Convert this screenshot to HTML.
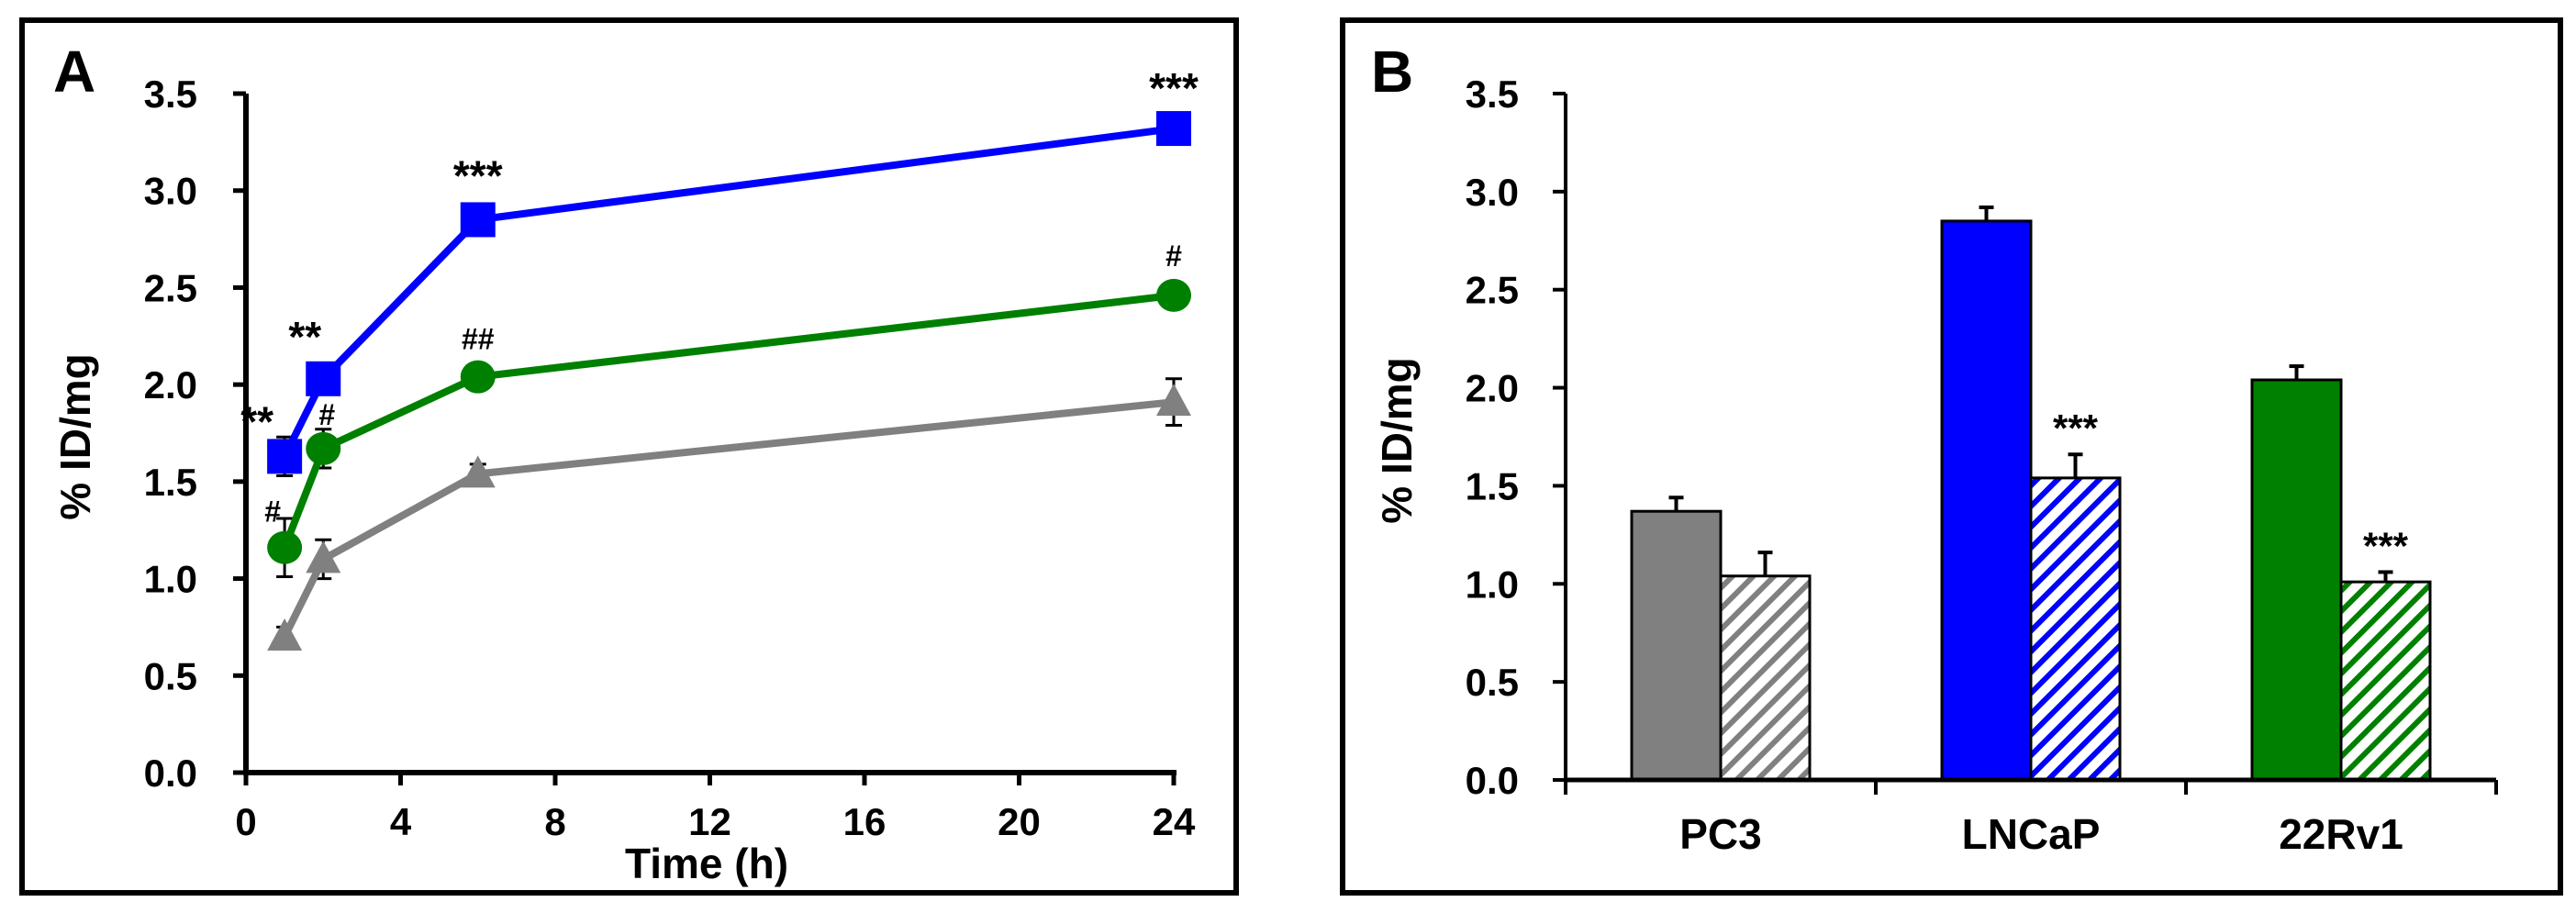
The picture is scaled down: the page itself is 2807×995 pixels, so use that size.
<!DOCTYPE html>
<html><head><meta charset="utf-8"><style>
html,body{margin:0;padding:0;background:#fff}
svg{display:block}
text{font-family:"Liberation Sans",Arial,sans-serif;font-weight:bold;fill:#000}
.n{font-family:"Liberation Sans Narrow","Liberation Sans",sans-serif}
</style></head><body>
<svg id="fig" width="2807" height="995" viewBox="0 0 2807 995" xmlns="http://www.w3.org/2000/svg">
<defs>
<pattern id="hg" patternUnits="userSpaceOnUse" width="16" height="16" patternTransform="rotate(45)"><rect width="16" height="16" fill="#fff"/><rect width="6" height="16" fill="#808080"/></pattern>
<pattern id="hb" patternUnits="userSpaceOnUse" width="16" height="16" patternTransform="rotate(45)"><rect width="16" height="16" fill="#fff"/><rect width="6" height="16" fill="#0000ff"/></pattern>
<pattern id="hgr" patternUnits="userSpaceOnUse" width="16" height="16" patternTransform="rotate(45)"><rect width="16" height="16" fill="#fff"/><rect width="6" height="16" fill="#008000"/></pattern>
</defs>
<rect x="24" y="22" width="1323" height="951" fill="none" stroke="#000" stroke-width="6"/>
<rect x="1463" y="22" width="1327" height="951" fill="none" stroke="#000" stroke-width="6"/>
<text x="58" y="100" font-size="64">A</text>
<text x="1494" y="100" font-size="64">B</text>
<g id="A"></g>
<g id="B"></g>
</svg>
<script>
// Panel A data
const times = [1, 2, 6, 24];
const xTicksA = [0, 4, 8, 12, 16, 20, 24];
const yTicks = [0, 0.5, 1, 1.5, 2, 2.5, 3, 3.5];
const yTickLabels = ["0.0","0.5","1.0","1.5","2.0","2.5","3.0","3.5"];
const blueVals = [1.63, 2.03, 2.85, 3.32];
const blueErr = [0.1, 0.05, 0.04, 0.04];
const greenVals = [1.16, 1.67, 2.04, 2.46];
const greenErr = [0.15, 0.1, 0.04, 0.04];
const grayVals = [0.70, 1.10, 1.54, 1.91];
const grayErr = [0.05, 0.1, 0.05, 0.12];
const blueMarks = ["**", "**", "***", "***"];
const greenMarks = ["#", "#", "##", "#"];
// Panel B data
const categories = ["PC3", "LNCaP", "22Rv1"];
const solidVals = [1.37, 2.85, 2.04];
const solidErr = [0.07, 0.07, 0.07];
const hatchVals = [1.04, 1.54, 1.01];
const hatchErr = [0.12, 0.12, 0.05];
const hatchMarks = ["", "***", "***"];

const NS = "http://www.w3.org/2000/svg";
function mk(parent, tag, attrs, txt) {
  const e = document.createElementNS(NS, tag);
  for (const k in attrs) e.setAttribute(k, attrs[k]);
  if (txt !== undefined) e.textContent = txt;
  parent.appendChild(e);
  return e;
}
// ---------- Panel A ----------
const A = document.getElementById("A");
const ax0 = 268, ax1 = 1279, ay0 = 842, ay1 = 102;
const xA = t => ax0 + (t / 24) * (ax1 - ax0);
const yA = v => ay0 - (v / 3.5) * (ay0 - ay1);
let e;
e = mk(A, "line", {x1: ax0, y1: ay1, x2: ax0, y2: ay0 + 2, stroke: "#000", "stroke-width": 6});
 
e = mk(A, "line", {x1: ax0 - 3, y1: ay0, x2: ax1 + 3, y2: ay0, stroke: "#000", "stroke-width": 6});
 
yTicks.forEach((v, i) => {
  mk(A, "line", {x1: ax0 - 14, y1: yA(v), x2: ax0, y2: yA(v), stroke: "#000", "stroke-width": 5});
  const t = mk(A, "text", {x: 215, y: yA(v) + 15, "font-size": 42, "text-anchor": "end"}, yTickLabels[i]);
   
});
xTicksA.forEach(v => {
  mk(A, "line", {x1: xA(v), y1: ay0, x2: xA(v), y2: ay0 + 14, stroke: "#000", "stroke-width": 5});
  const t = mk(A, "text", {x: xA(v), y: 910, "font-size": 42, "text-anchor": "middle"}, String(v));
   
});
e = mk(A, "text", {x: 770, y: 957, "font-size": 46, "text-anchor": "middle"}, "Time (h)");
 
e = mk(A, "text", {x: 0, y: 0, "font-size": 46, "text-anchor": "middle", transform: "translate(98,476) rotate(-90)"}, "% ID/mg");
 

function series(vals, errs, color, name, marker) {
  const g = mk(A, "g", {});
   
  vals.forEach((v, i) => {
    const x = xA(times[i]);
    mk(g, "line", {x1: x, y1: yA(v + errs[i]), x2: x, y2: yA(v - errs[i]), stroke: "#000", "stroke-width": 3});
    mk(g, "line", {x1: x - 9, y1: yA(v + errs[i]), x2: x + 9, y2: yA(v + errs[i]), stroke: "#000", "stroke-width": 3});
    mk(g, "line", {x1: x - 9, y1: yA(v - errs[i]), x2: x + 9, y2: yA(v - errs[i]), stroke: "#000", "stroke-width": 3});
  });
  const pts = vals.map((v, i) => xA(times[i]) + "," + yA(v)).join(" ");
  mk(g, "polyline", {points: pts, fill: "none", stroke: color, "stroke-width": 8, "stroke-linejoin": "round"});
  vals.forEach((v, i) => {
    const x = xA(times[i]), y = yA(v);
    let m;
    if (marker === "sq") m = mk(g, "rect", {x: x - 19, y: y - 19, width: 38, height: 38, fill: color});
    else if (marker === "ci") m = mk(g, "ellipse", {cx: x, cy: y, rx: 19, ry: 18, fill: color});
    else m = mk(g, "polygon", {points: `${x},${y - 20} ${x + 19},${y + 15} ${x - 19},${y + 15}`, fill: color});
     
  });
}
series(grayVals, grayErr, "#808080", "pc3", "tri");
series(greenVals, greenErr, "#008000", "22rv1", "ci");
series(blueVals, blueErr, "#0000ff", "lncap", "sq");
// annotations
const bOff = [[-30, -42], [-20, -50], [0, -52], [0, -48]];
blueMarks.forEach((s, i) => {
  const t = mk(A, "text", {x: xA(times[i]) + bOff[i][0], y: yA(blueVals[i]) + bOff[i][1] + 20, "font-size": 46, "text-anchor": "middle"}, s);
   
});
const gOff = [[-13, -42], [4, -40], [0, -44], [0, -46]];
greenMarks.forEach((s, i) => {
  const t = mk(A, "text", {x: xA(times[i]) + gOff[i][0], y: yA(greenVals[i]) + gOff[i][1] + 14, "font-size": 32, "text-anchor": "middle"}, s);
   
});
// ---------- Panel B ----------
const B = document.getElementById("B");
const bx0 = 1706, bx1 = 2720, by0 = 850, by1 = 102;
const yB = v => by0 - (v / 3.5) * (by0 - by1);
const catW = (bx1 - bx0) / categories.length;
const barW = 97;
e = mk(B, "line", {x1: bx0, y1: by1, x2: bx0, y2: by0 + 16, stroke: "#000", "stroke-width": 4});
 
yTicks.forEach((v, i) => {
  mk(B, "line", {x1: bx0 - 14, y1: yB(v), x2: bx0, y2: yB(v), stroke: "#000", "stroke-width": 4});
  const t = mk(B, "text", {x: 1655, y: yB(v) + 15, "font-size": 42, "text-anchor": "end", class: "n"}, yTickLabels[i]);
   
});
e = mk(B, "text", {x: 0, y: 0, "font-size": 46, "text-anchor": "middle", transform: "translate(1538,480) rotate(-90)"}, "% ID/mg");
 
const solidFill = ["#808080", "#0000ff", "#008000"];
const hatchFill = ["url(#hg)", "url(#hb)", "url(#hgr)"];
categories.forEach((c, i) => {
  const cx = bx0 + catW * (i + 0.5);
  // error bars
  [[solidVals, solidErr, cx - barW / 2], [hatchVals, hatchErr, cx + barW / 2]].forEach(([vals, errs, x]) => {
    mk(B, "line", {x1: x, y1: yB(vals[i]), x2: x, y2: yB(vals[i] + errs[i]), stroke: "#000", "stroke-width": 4});
    mk(B, "line", {x1: x - 8, y1: yB(vals[i] + errs[i]), x2: x + 8, y2: yB(vals[i] + errs[i]), stroke: "#000", "stroke-width": 4});
  });
  let r = mk(B, "rect", {x: cx - barW, y: yB(solidVals[i]), width: barW, height: by0 - yB(solidVals[i]), fill: solidFill[i], stroke: "#000", "stroke-width": 3});
   
  r = mk(B, "rect", {x: cx, y: yB(hatchVals[i]), width: barW, height: by0 - yB(hatchVals[i]), fill: hatchFill[i], stroke: "#000", "stroke-width": 3});
   
  if (hatchMarks[i]) {
    const t = mk(B, "text", {x: cx + barW / 2, y: yB(hatchVals[i] + hatchErr[i]) - 14, "font-size": 42, "text-anchor": "middle", class: "n"}, hatchMarks[i]);
     
  }
  const t = mk(B, "text", {x: cx, y: 925, "font-size": 46, "text-anchor": "middle", class: "n"}, c);
   
});
for (let k = 0; k <= categories.length; k++) {
  mk(B, "line", {x1: bx0 + catW * k, y1: by0, x2: bx0 + catW * k, y2: by0 + 16, stroke: "#000", "stroke-width": 4});
}
e = mk(B, "line", {x1: bx0, y1: by0, x2: bx1, y2: by0, stroke: "#000", "stroke-width": 5});
 
</script>
</body></html>
